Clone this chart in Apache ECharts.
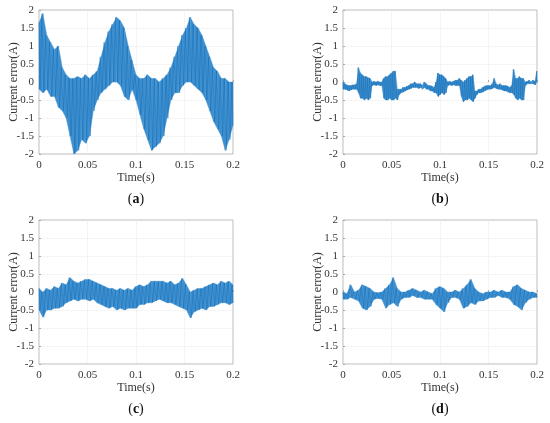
<!DOCTYPE html>
<html>
<head>
<meta charset="utf-8">
<script src="https://cdn.jsdelivr.net/npm/echarts@6/dist/echarts.min.js"></script>
<style>
  html, body { margin: 0; padding: 0; background: #fff; }
  #main { width: 550px; height: 423px; }
</style>
</head>
<body>
<div id="main"></div>
<script>
// x ticks and y ticks
var timeTicks = [0, 0.05, 0.1, 0.15, 0.2];
var errTicks = [-2, -1.5, -1, -0.5, 0, 0.5, 1, 1.5, 2];
var panelNames = ['a', 'b', 'c', 'd'];

// upper / lower edge of the noise band
// (a) every 0.004 s
var aHi = [1.65, 1.9, 1.3, 1.1, 0.9, 1.0, 0.4, 0.2, 0.1, 0.1,
           0.15, 0.1, 0.2, 0.1, 0.2, 0.3, 0.7, 1.1, 1.4, 1.6,
           1.8, 1.7, 1.5, 1.0, 0.6, 0.2, 0.1, 0.1, 0.2, 0.1,
           0.1, 0.0, 0.1, 0.2, 0.4, 0.7, 1.0, 1.3, 1.5, 1.8,
           1.6, 1.5, 1.3, 1.0, 0.7, 0.4, 0.3, 0.1, 0.1, 0.0,
           0.0];
var aLo = [-0.2, -0.3, -0.2, -0.4, -0.4, -0.7, -0.8, -1.0, -1.5, -2.0,
           -1.9, -1.6, -1.7, -1.5, -0.8, -0.5, -0.3, -0.2, -0.1, 0.0,
           0.0, -0.1, -0.4, -0.5, -0.2, -0.5, -0.9, -1.3, -1.6, -1.9,
           -1.8, -1.7, -1.5, -1.0, -0.5, -0.3, -0.3, -0.1, 0.0, 0.0,
           -0.1, -0.2, -0.3, -0.5, -0.8, -1.1, -1.3, -1.5, -1.9, -1.6,
           -1.2];

// (b) every 0.002 s
var bHi = [0.0, -0.05, -0.08, -0.1, -0.1, -0.08, -0.08, -0.05, 0.4, 0.25,
           0.2, 0.15, 0.15, 0.12, 0.1, 0.0, 0.02, 0.0, 0.02, 0.0,
           0.0, 0.1, 0.15, 0.15, 0.2, 0.25, 0.3, 0.3, -0.2, -0.2,
           -0.2, -0.15, -0.15, -0.12, -0.1, -0.05, -0.05, 0.0, -0.05, -0.05,
           -0.05, -0.1, 0.0, -0.05, -0.1, -0.1, -0.12, -0.15, 0.0, 0.25,
           0.2, 0.2, 0.15, 0.1, 0.0, 0.02, 0.0, 0.02, 0.05, 0.05,
           0.1, 0.05, 0.0, 0.05, 0.1, 0.15, 0.15, 0.2, -0.25, -0.25,
           -0.2, -0.2, -0.15, -0.12, -0.1, -0.1, -0.1, -0.05, 0.1, -0.05,
           -0.08, -0.05, -0.1, -0.1, -0.1, -0.12, -0.15, -0.1, 0.35, 0.1,
           0.1, 0.15, 0.1, 0.1, 0.0, 0.02, 0.05, 0.0, 0.05, 0.02,
           0.3];
var bLo = [-0.2, -0.2, -0.22, -0.25, -0.22, -0.2, -0.2, -0.2, -0.3, -0.45,
           -0.45, -0.5, -0.45, -0.5, -0.45, -0.1, -0.08, -0.1, -0.08, -0.1,
           -0.1, -0.45, -0.5, -0.5, -0.45, -0.5, -0.5, -0.45, -0.5, -0.35,
           -0.3, -0.28, -0.25, -0.22, -0.2, -0.18, -0.15, -0.15, -0.15, -0.18,
           -0.15, -0.2, -0.15, -0.2, -0.2, -0.25, -0.25, -0.3, -0.3, -0.4,
           -0.35, -0.3, -0.35, -0.3, -0.1, -0.08, -0.1, -0.08, -0.1, -0.1,
           -0.1, -0.4, -0.55, -0.5, -0.5, -0.45, -0.5, -0.55, -0.45, -0.35,
           -0.3, -0.3, -0.28, -0.25, -0.22, -0.2, -0.2, -0.18, -0.15, -0.18,
           -0.2, -0.2, -0.22, -0.25, -0.25, -0.28, -0.3, -0.3, -0.35, -0.45,
           -0.5, -0.45, -0.5, -0.5, -0.1, -0.05, -0.05, -0.05, -0.05, -0.08,
           0.0];

// (c) every 0.004 s
var cHi = [0.1, 0.0, 0.1, 0.05, 0.15, 0.1, 0.25, 0.2, 0.4, 0.3,
           0.25, 0.3, 0.35, 0.35, 0.3, 0.25, 0.2, 0.15, 0.1, 0.1,
           0.05, 0.1, 0.05, 0.1, 0.05, 0.15, 0.2, 0.15, 0.2, 0.3,
           0.3, 0.3, 0.3, 0.25, 0.3, 0.2, 0.25, 0.38, 0.2, 0.0,
           0.05, 0.1, 0.1, 0.15, 0.2, 0.25, 0.2, 0.3, 0.25, 0.3,
           0.2];
var cLo = [-0.5, -0.7, -0.5, -0.5, -0.45, -0.45, -0.4, -0.3, -0.25, -0.2,
           -0.25, -0.2, -0.2, -0.25, -0.2, -0.3, -0.35, -0.4, -0.45, -0.4,
           -0.5, -0.45, -0.5, -0.45, -0.45, -0.45, -0.35, -0.35, -0.3, -0.3,
           -0.25, -0.2, -0.25, -0.3, -0.3, -0.35, -0.4, -0.45, -0.5, -0.72,
           -0.55, -0.5, -0.45, -0.5, -0.4, -0.4, -0.35, -0.3, -0.3, -0.35,
           -0.3];

// (d) every 0.004 s
var dHi = [0.0, -0.05, 0.2, 0.0, 0.05, 0.2, 0.15, 0.1, 0.0, -0.02,
           0.0, 0.1, 0.2, 0.4, 0.1, 0.0, 0.0, 0.05, 0.1, 0.05,
           0.0, 0.05, 0.0, -0.05, 0.1, 0.15, 0.1, 0.0, 0.0, 0.05,
           0.0, 0.1, 0.2, 0.35, 0.1, 0.0, -0.05, 0.0, 0.0, 0.05,
           0.0, 0.05, 0.0, 0.0, 0.15, 0.2, 0.1, 0.05, 0.0, 0.0,
           -0.05];
var dLo = [-0.2, -0.2, -0.15, -0.2, -0.25, -0.45, -0.5, -0.4, -0.2, -0.18,
           -0.2, -0.45, -0.35, -0.3, -0.4, -0.2, -0.15, -0.15, -0.1, -0.15,
           -0.15, -0.2, -0.2, -0.2, -0.35, -0.45, -0.55, -0.3, -0.15, -0.15,
           -0.2, -0.45, -0.4, -0.3, -0.35, -0.25, -0.25, -0.2, -0.15, -0.15,
           -0.1, -0.15, -0.15, -0.2, -0.35, -0.4, -0.5, -0.3, -0.2, -0.15,
           -0.15];

var serif = '"Liberation Serif", "DejaVu Serif", serif';
var lightBlue = '#3d8fd0';
var darkBlue = '#0a66ae';

// hi / lo samples one after the other, so the trace zig-zags like the noisy signal
function zigzag(hi, lo) {
    var step = 0.2 / (hi.length - 1);
    var pts = [];
    for (var i = 0; i < hi.length; i++) {
        var t = i * step;
        pts.push([Math.max(0, t - step / 4), hi[i]]);
        pts.push([Math.min(0.2, t + step / 4), lo[i]]);
    }
    return pts;
}

// band segments between consecutive samples: [t0, hi0, lo0, t1, hi1, lo1]
function segments(hi, lo) {
    var step = 0.2 / (hi.length - 1);
    var segs = [];
    for (var i = 0; i < hi.length - 1; i++) {
        segs.push([i * step, hi[i], lo[i], (i + 1) * step, hi[i + 1], lo[i + 1]]);
    }
    return segs;
}

function renderBand(params, api) {
    var p1 = api.coord([api.value(0), api.value(1)]);
    var p2 = api.coord([api.value(3), api.value(4)]);
    var p3 = api.coord([api.value(3), api.value(5)]);
    var p4 = api.coord([api.value(0), api.value(2)]);
    return {
        type: 'polygon',
        shape: {points: [p1, p2, p3, p4]},
        style: {fill: lightBlue, stroke: lightBlue, lineWidth: 0.4}
    };
}

var boxes = [
    {left: 39, top: 10},
    {left: 343, top: 10},
    {left: 39, top: 220},
    {left: 343, top: 220}
];
var bands = [[aHi, aLo], [bHi, bLo], [cHi, cLo], [dHi, dLo]];

var grids = [], xAxes = [], yAxes = [], series = [], texts = [];
boxes.forEach(function(b, i) {
    grids.push({
        left: b.left, top: b.top, width: 194, height: 144,
        show: true, borderColor: '#a8a8a8', borderWidth: 0.8, backgroundColor: '#fff'
    });
    xAxes.push({
        type: 'value', gridIndex: i, min: 0, max: 0.2, interval: 0.05,
        name: 'Time(s)', nameLocation: 'middle', nameGap: 18, nameMoveOverlap: false,
        nameTextStyle: {fontFamily: serif, fontSize: 12, color: '#333'},
        axisLine: {show: false},
        axisTick: {show: true, inside: true, length: 2, lineStyle: {color: '#a8a8a8'}},
        axisLabel: {fontFamily: serif, fontSize: 11, color: '#333', margin: 6,
            formatter: function(v) {
                for (var k = 0; k < timeTicks.length; k++) {
                    if (Math.abs(v - timeTicks[k]) < 1e-9) return String(timeTicks[k]);
                }
                return '';
            }},
        splitLine: {show: true, lineStyle: {color: '#e4e4e4', type: 'dotted', width: 0.8}}
    });
    yAxes.push({
        type: 'value', gridIndex: i, min: errTicks[0], max: errTicks[errTicks.length - 1], interval: 0.5,
        name: 'Current error(A)', nameLocation: 'middle', nameGap: 19, nameMoveOverlap: false,
        nameTextStyle: {fontFamily: serif, fontSize: 12, color: '#333'},
        axisLine: {show: false},
        axisTick: {show: true, inside: true, length: 2, lineStyle: {color: '#a8a8a8'}},
        axisLabel: {fontFamily: serif, fontSize: 11, color: '#333', margin: 5},
        splitLine: {show: true, lineStyle: {color: '#e4e4e4', type: 'dotted', width: 0.8}}
    });
    series.push({
        type: 'custom', xAxisIndex: i, yAxisIndex: i,
        data: segments(bands[i][0], bands[i][1]),
        encode: {x: [0, 3], y: [1, 2, 4, 5]},
        renderItem: renderBand
    });
    series.push({
        type: 'line', xAxisIndex: i, yAxisIndex: i,
        data: zigzag(bands[i][0], bands[i][1]),
        showSymbol: false, sampling: null, clip: true,
        lineStyle: {color: darkBlue, width: 0.5, opacity: 0.75}
    });
    texts.push({
        type: 'text', x: b.left + 97, y: b.top + 189,
        style: {
            text: '{n|(}{b|' + panelNames[i] + '}{n|)}',
            textAlign: 'center', textVerticalAlign: 'middle',
            rich: {
                n: {fontFamily: serif, fontSize: 14, fill: '#111'},
                b: {fontFamily: serif, fontSize: 14, fontWeight: 'bold', fill: '#111'}
            }
        }
    });
});

var chart = echarts.init(document.getElementById('main'));
chart.setOption({
    animation: false,
    grid: grids,
    xAxis: xAxes,
    yAxis: yAxes,
    series: series,
    graphic: texts
});
</script>
</body>
</html>
